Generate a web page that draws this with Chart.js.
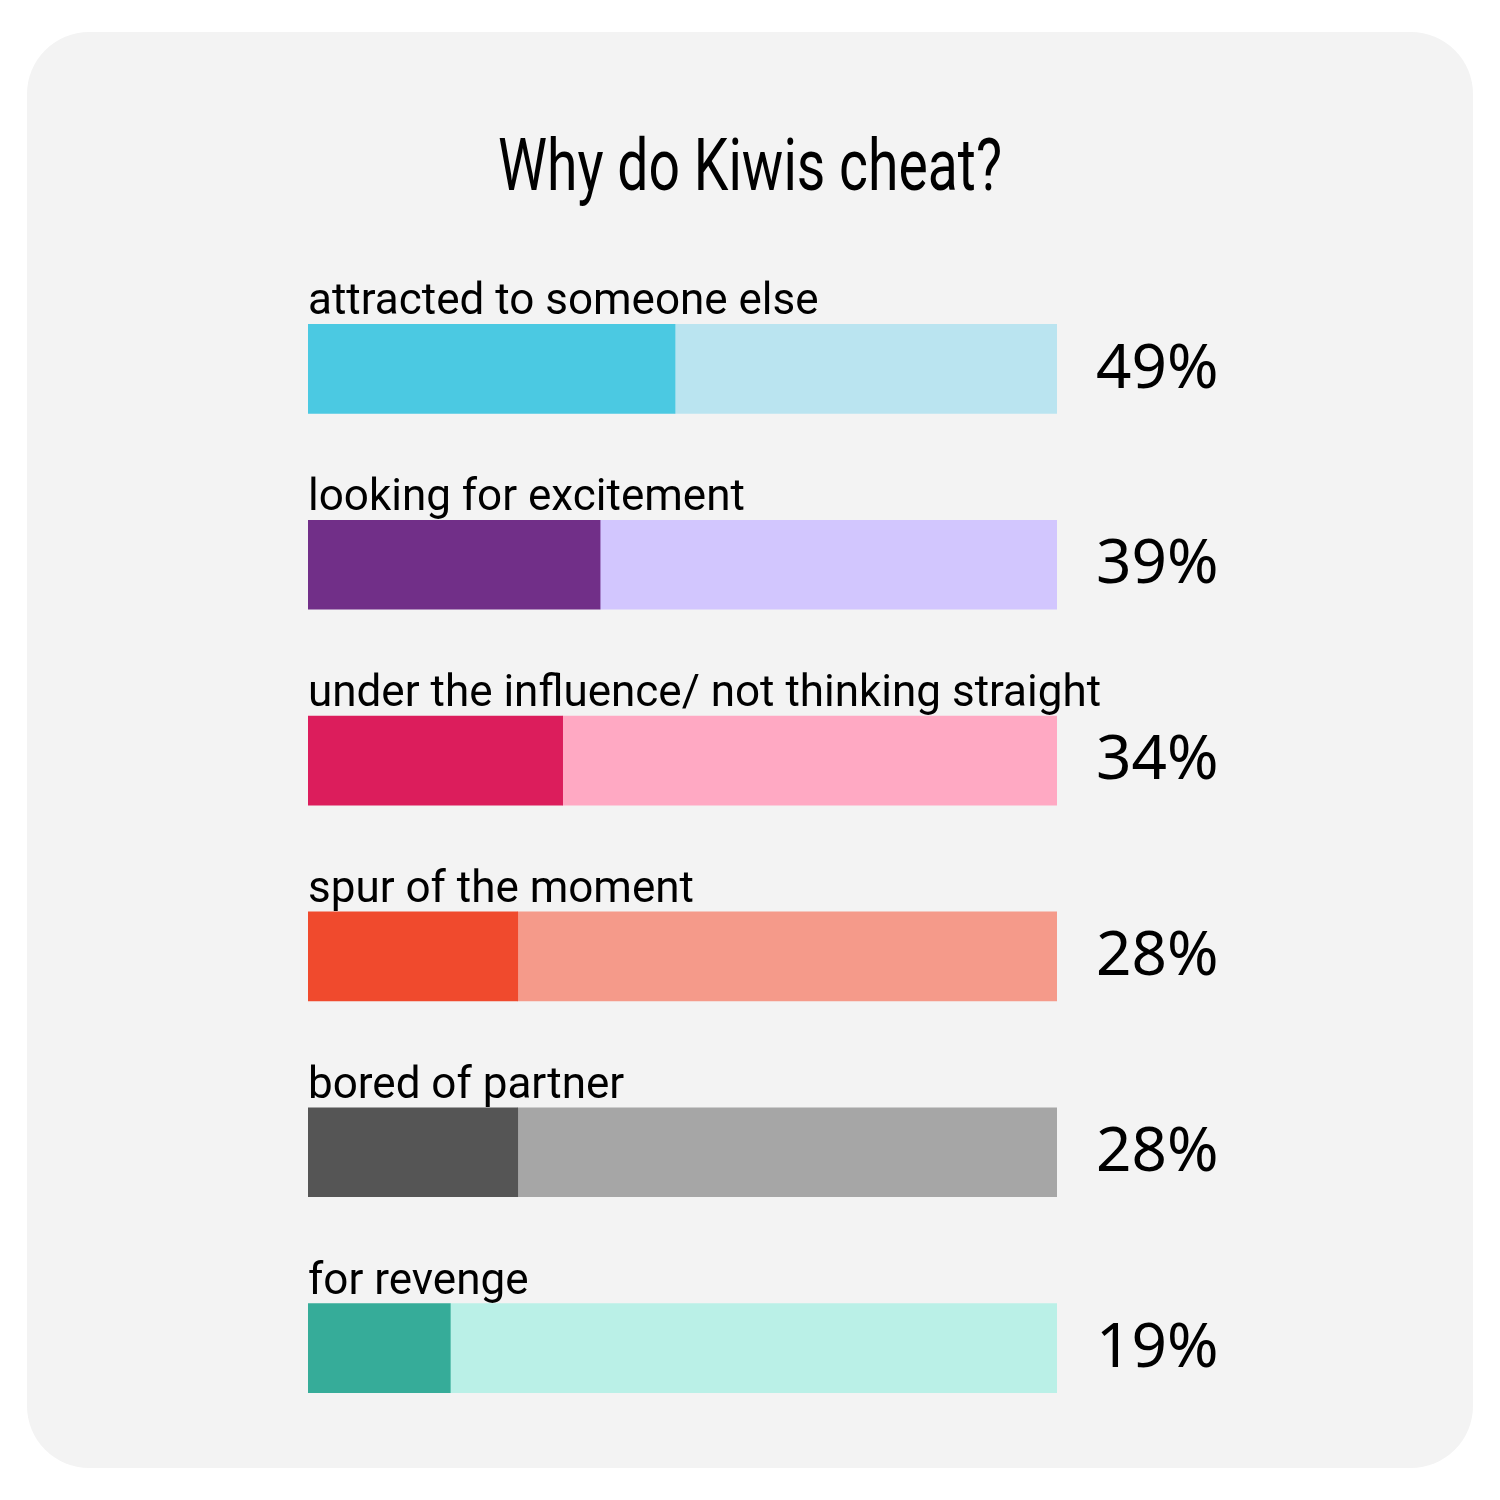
<!DOCTYPE html>
<html>
<head>
<meta charset="utf-8">
<script src="https://cdn.jsdelivr.net/npm/chart.js@4"></script>
<style>
  html, body { margin: 0; padding: 0; background: #ffffff; }
  #wrap { width: 1500px; height: 1500px; position: relative; }
</style>
</head>
<body>
<div id="wrap"><canvas id="cheatChart" width="1500" height="1500"></canvas></div>
<script>
const title = 'Why do Kiwis cheat?';
const reasons = [
    'attracted to someone else',
    'looking for excitement',
    'under the influence/ not thinking straight',
    'spur of the moment',
    'bored of partner',
    'for revenge'
];
const percents = [49, 39, 34, 28, 28, 19];
const darkColors = ['#4bc9e2', '#712f88', '#dc1d5c', '#f04a2d', '#555555', '#36ac99'];
const lightColors = ['#bae4f0', '#d2c6fe', '#ffa9c3', '#f59a8a', '#a6a6a6', '#baf0e7'];

// Card behind the chart
const cardPlugin = {
    id: 'card',
    beforeDraw(chart) {
        const ctx = chart.ctx;
        ctx.save();
        ctx.fillStyle = '#f3f3f3';
        ctx.beginPath();
        ctx.roundRect(27, 32, 1446, 1436, 62);
        ctx.fill();
        ctx.restore();
    }
};

// Title, category labels and percent labels
const textPlugin = {
    id: 'texts',
    afterDatasetsDraw(chart) {
        const ctx = chart.ctx;
        const x = chart.scales.x;
        const meta = chart.getDatasetMeta(0);
        ctx.save();
        ctx.fillStyle = '#000000';

        // condensed title
        ctx.font = '73px Roboto';
        const w = ctx.measureText(title).width;
        const sx = 504 / w;
        ctx.textBaseline = 'alphabetic';
        ctx.textAlign = 'center';
        ctx.translate(750, 190);
        ctx.scale(sx, 1);
        ctx.fillText(title, 0, 0);
        ctx.setTransform(1, 0, 0, 1, 0, 0);
        ctx.scale(chart.currentDevicePixelRatio, chart.currentDevicePixelRatio);

        meta.data.forEach((bar, i) => {
            const top = bar.y - bar.height / 2;
            ctx.textAlign = 'left';
            ctx.textBaseline = 'alphabetic';
            ctx.font = '44px Roboto';
            ctx.fillText(reasons[i], x.getPixelForValue(0), top - 10);

            ctx.textBaseline = 'middle';
            ctx.font = '62px "Noto Sans"';
            ctx.fillText(percents[i] + '%', x.getPixelForValue(100) + 39, bar.y + 1);
        });
        ctx.restore();
    }
};

new Chart(document.getElementById('cheatChart'), {
    type: 'bar',
    data: {
        labels: reasons,
        datasets: [
            {
                label: 'share',
                data: percents,
                backgroundColor: darkColors,
                borderWidth: 0,
                barThickness: 89
            },
            {
                label: 'rest',
                data: percents.map(v => 100 - v),
                backgroundColor: lightColors,
                borderWidth: 0,
                barThickness: 89
            }
        ]
    },
    options: {
        indexAxis: 'y',
        responsive: false,
        animation: false,
        layout: {
            padding: { left: 308, right: 443, top: 271, bottom: 54 }
        },
        scales: {
            x: { stacked: true, min: 0, max: 100, display: false },
            y: { stacked: true, display: false }
        },
        plugins: {
            legend: { display: false },
            tooltip: { enabled: false },
            title: { display: false }
        }
    },
    plugins: [cardPlugin, textPlugin]
});
</script>
</body>
</html>
